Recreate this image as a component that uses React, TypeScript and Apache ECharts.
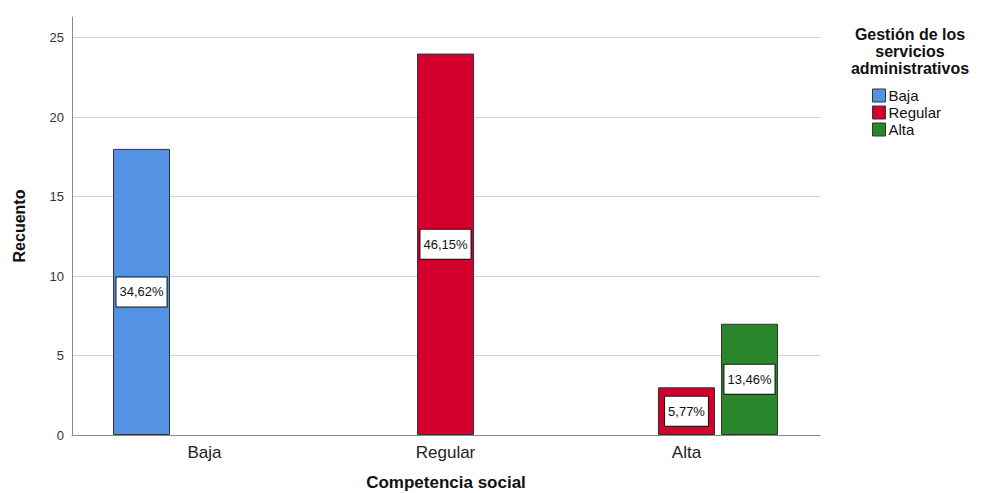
import React, { useEffect, useRef } from "react";
import * as echarts from "echarts";

const categories = ["Baja", "Regular", "Alta"];
const seriesNames = ["Baja", "Regular", "Alta"];
const bajaValues = [18, null, null];
const regularValues = [null, 24, 3];
const altaValues = [null, null, 7];
const bajaPct = ["34,62%", "", ""];
const regularPct = ["", "46,15%", "5,77%"];
const altaPct = ["", "", "13,46%"];
const yTicks = [0, 5, 10, 15, 20, 25];
const colors = ["#5493E4", "#D3002F", "#2A862A"];

export default function App() {
  const ref = useRef<HTMLDivElement>(null);
  useEffect(() => {
    if (!ref.current) return;
    const chart = echarts.init(ref.current, null, { renderer: "svg" });
    const values = [bajaValues, regularValues, altaValues];
    const pcts = [bajaPct, regularPct, altaPct];
    const yMax = 26.3;
    chart.setOption({
      animation: false,
      textStyle: { fontFamily: "Liberation Sans, Arial, sans-serif" },
      title: {
        text: "Gestión de los\nservicios\nadministrativos",
        left: 905,
        top: 21,
        textAlign: "center",
        textStyle: { fontSize: 16, fontWeight: "bold", color: "#111", lineHeight: 17, fontFamily: "Liberation Sans, Arial, sans-serif" },
      },
      legend: {
        orient: "vertical",
        left: 867,
        top: 83,
        itemWidth: 13,
        itemHeight: 13,
        itemGap: 2,
        icon: "rect",
        data: seriesNames,
        textStyle: { fontSize: 15, lineHeight: 13, color: "#111", padding: [0, 0, 0, -2] },
        itemStyle: { borderColor: "#333", borderWidth: 1 },
      },
      grid: [
        { left: 72, right: 163, top: 17, bottom: 58, outerBoundsMode: "none", containLabel: false },
        { left: 84, right: 176, top: 17, bottom: 58, outerBoundsMode: "none", containLabel: false },
      ],
      xAxis: [
        {
          type: "category",
          gridIndex: 0,
          data: categories,
          axisLine: { show: true, lineStyle: { color: "#888", width: 1 } },
          axisTick: { show: false },
          axisLabel: { show: false },
          name: "Competencia social",
          nameLocation: "middle",
          nameGap: 39,
          nameTextStyle: { fontSize: 17, lineHeight: 17, fontWeight: "bold", color: "#111" },
        },
        {
          type: "category",
          gridIndex: 1,
          data: categories,
          axisLine: { show: false },
          axisTick: { show: false },
          axisLabel: { fontSize: 17, color: "#222", margin: 9 },
        },
      ],
      yAxis: [
        {
          type: "value",
          gridIndex: 0,
          min: 0,
          max: yMax,
          interval: 5,
          axisLine: { show: true, lineStyle: { color: "#888", width: 1 } },
          axisTick: { show: false },
          axisLabel: {
            fontSize: 13,
            color: "#333",
            margin: 8,
            formatter: (v: number) => (yTicks.includes(v) ? String(v) : ""),
          },
          splitLine: { show: true, showMaxLine: false, showMinLine: false, lineStyle: { color: "#d3d3d3", width: 1 } },
          name: "Recuento",
          nameLocation: "middle",
          nameGap: 45,
          nameTextStyle: { fontSize: 16, fontWeight: "bold", color: "#111" },
        },
        {
          type: "value",
          gridIndex: 1,
          min: 0,
          max: yMax,
          show: false,
          splitLine: { show: false },
        },
      ],
      series: seriesNames.map((name, i) => ({
        name,
        type: "bar",
        xAxisIndex: 1,
        yAxisIndex: 1,
        barWidth: 57,
        barGap: "10.5%",
        data: values[i],
        itemStyle: { color: colors[i], borderColor: "#333", borderWidth: 1 },
        label: {
          show: true,
          position: "inside",
          formatter: (p: any) => pcts[i][p.dataIndex],
          fontSize: 13,
          lineHeight: 13,
          color: "#111",
          backgroundColor: "#fff",
          borderColor: "#111",
          borderWidth: 1,
          padding: [8, 3, 8, 3],
        },
      })),
    });
    return () => chart.dispose();
  }, []);
  return <div ref={ref} style={{ width: 983, height: 493, position: "absolute", left: 0, top: 0 }} />;
}
